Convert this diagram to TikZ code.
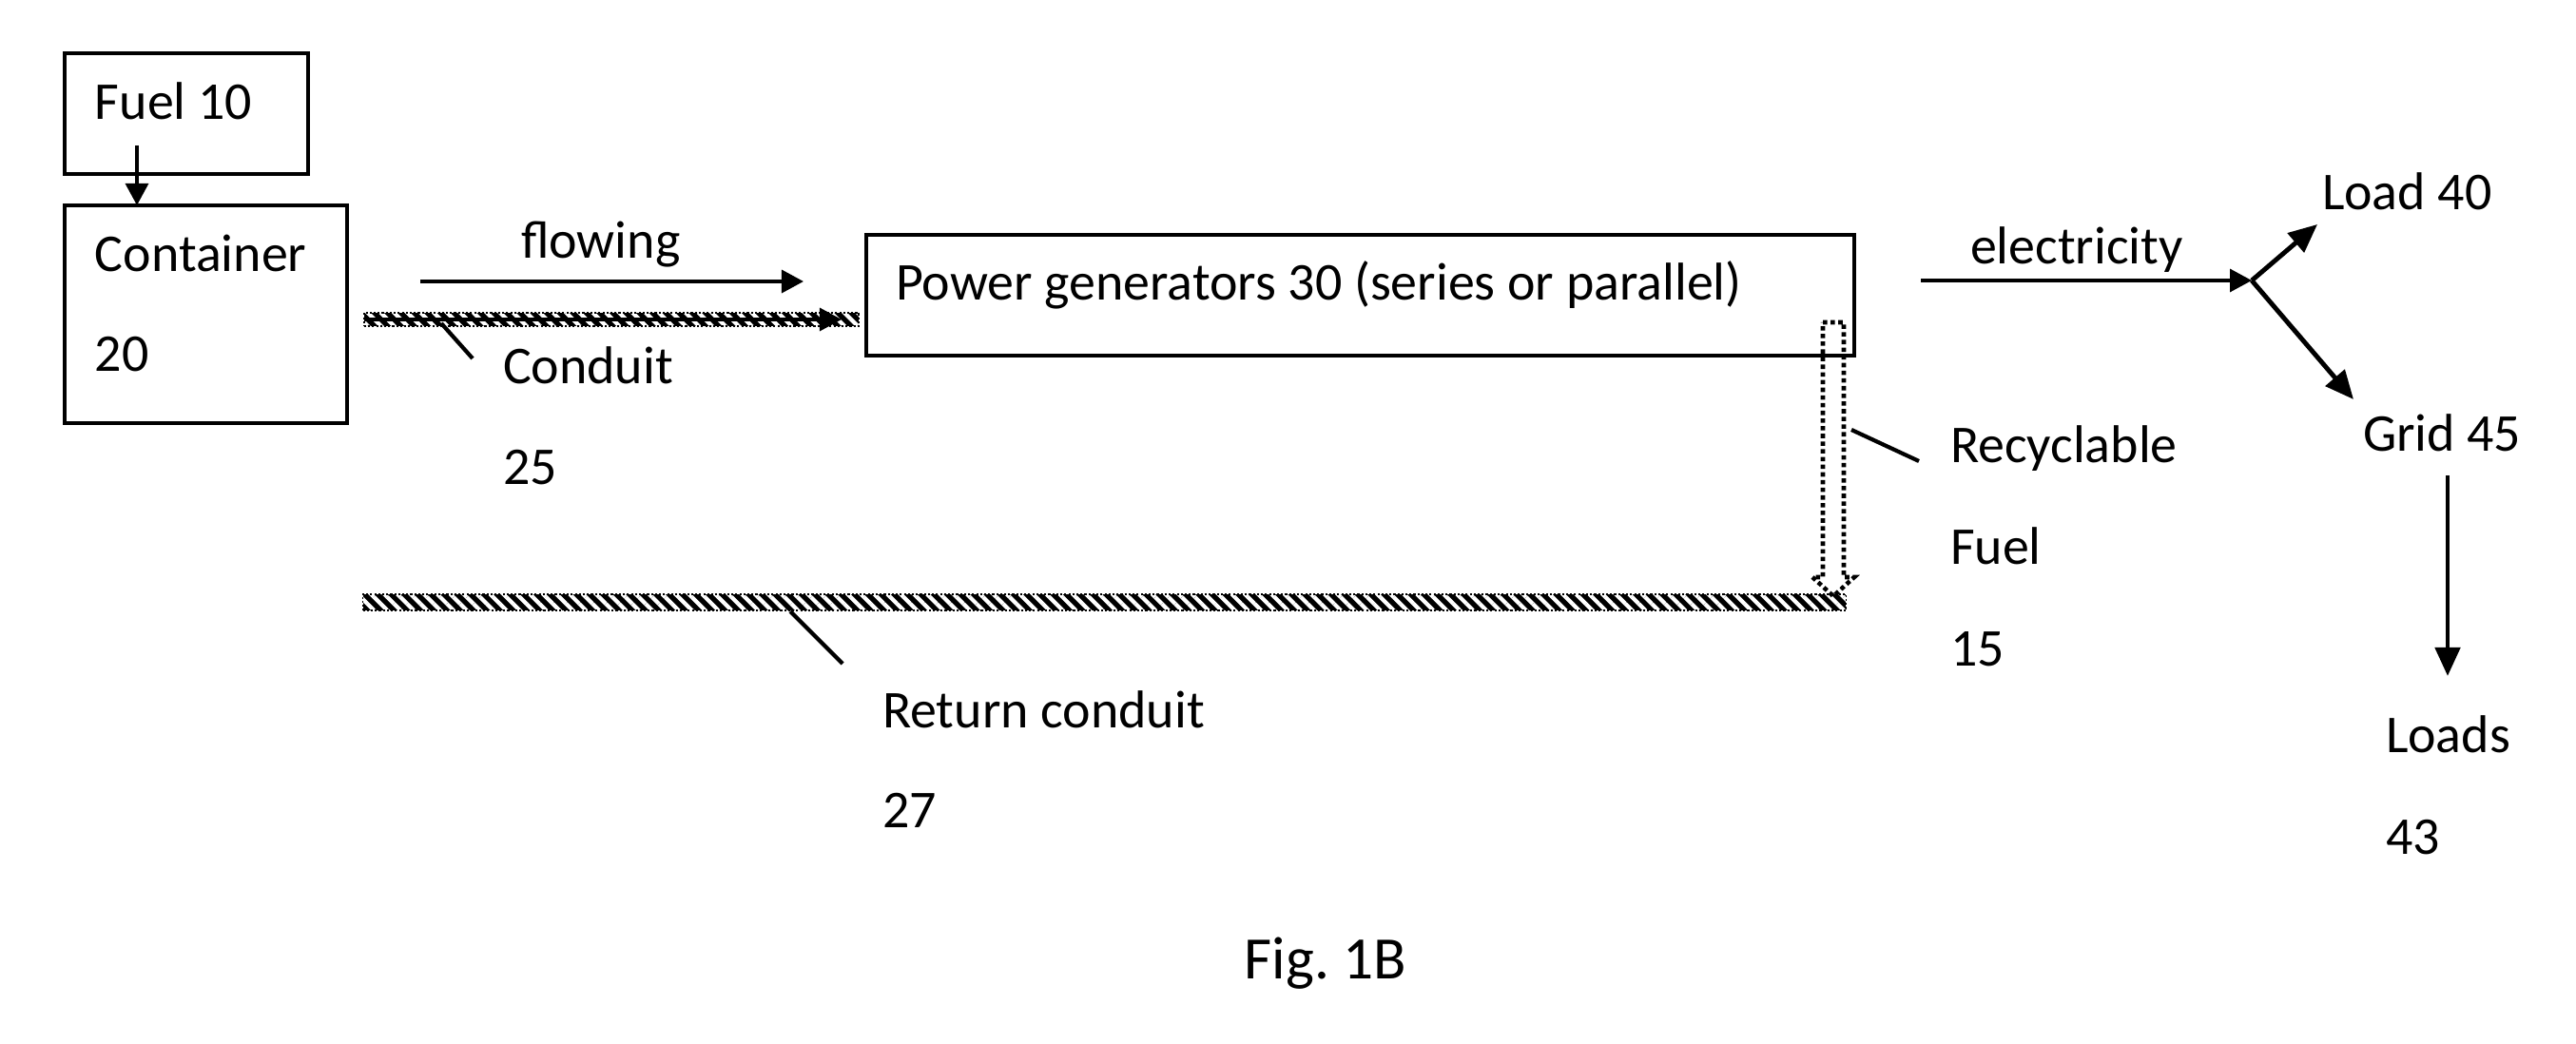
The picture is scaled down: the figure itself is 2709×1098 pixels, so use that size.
\documentclass[tikz,border=0pt]{standalone}
\usepackage{fontspec}
\setmainfont{Carlito}
\usetikzlibrary{arrows.meta,patterns,patterns.meta}
\begin{document}
\begin{tikzpicture}[x=0.01cm,y=-0.01cm,
  box/.style={draw,line width=1.1pt,rectangle,inner sep=0pt,outer sep=0pt},
  lbl/.style={anchor=base west,inner sep=0pt,outer sep=0pt,font=\fontsize{15.9}{19}\selectfont},
  arr/.style={line width=0.95pt,-{Triangle[length=0.23cm,width=0.24cm]}},
  barr/.style={line width=1.4pt,-{Triangle[length=0.3cm,width=0.26cm]}},
  leader/.style={line width=1.2pt},
  hatchbar/.style={rectangle,inner sep=0pt,outer sep=0pt,fill=black,
    postaction={pattern={Lines[angle=-45,distance=2.8pt,line width=1.2pt]},pattern color=white},
    postaction={draw=black,line width=0.5pt,dash pattern=on 0.6pt off 0.6pt}},
  recyc/.style={line width=1.3pt,densely dotted},
]
\useasboundingbox (0,0) rectangle (2709,1098);

% boxes
\node[box,minimum width=2.56cm,minimum height=1.27cm] (fuel) at (196,119.5) {};
\node[box,minimum width=2.97cm,minimum height=2.29cm] (cont) at (216.5,330.5) {};
\node[box,minimum width=10.39cm,minimum height=1.27cm] (pow) at (1430.5,310.5) {};

% bars
\node[hatchbar,minimum width=5.2cm,minimum height=0.14cm] (cbar) at (643,336) {};
\node[hatchbar,minimum width=15.59cm,minimum height=0.17cm] (rbar) at (1161.5,633.5) {};

% texts
\node[lbl] (t-fuel) at (100,126) {Fuel 10};
\node[lbl] (t-cont) at (100,286) {Container};
\node[lbl] (t-20) at (100,391) {20};
\node[lbl] (t-flow) at (548,272) {flowing};
\node[lbl] (t-cond) at (529,404) {Conduit};
\node[lbl] (t-25) at (529,510) {25};
\node[lbl] (t-pow) at (942,316) {Power generators 30 (series or parallel)};
\node[lbl] (t-elec) at (2072,278) {electricity};
\node[lbl] (t-load) at (2442,221) {Load 40};
\node[lbl] (t-grid) at (2485,475) {Grid 45};
\node[lbl] (t-rec) at (2051,487) {Recyclable};
\node[lbl] (t-rfuel) at (2051,594) {Fuel};
\node[lbl] (t-15) at (2051,701) {15};
\node[lbl] (t-ret) at (928,766) {Return conduit};
\node[lbl] (t-27) at (928,871) {27};
\node[lbl] (t-loads) at (2509,792) {Loads};
\node[lbl] (t-43) at (2509,899) {43};
\node[anchor=base west,inner sep=0pt,font=\fontsize{18}{22}\selectfont] (t-fig) at (1308,1029) {Fig.~1B};

% coordinates
\coordinate (fa) at (144,153);
\coordinate (fs) at (442,296);
\coordinate (fe) at (845,296);
\coordinate (ctip) at (885,336);
\coordinate (es) at (2020,295);
\coordinate (jn) at (2368,295);
\coordinate (ltip) at (2437,236);
\coordinate (gtip) at (2475,420);
\coordinate (gs) at (2574,500);
\coordinate (ge) at (2574,711);
\coordinate (l1a) at (464,340);
\coordinate (l1b) at (497,377);
\coordinate (l2a) at (831,643);
\coordinate (l2b) at (886,698);
\coordinate (l3a) at (1947,452);
\coordinate (l3b) at (2018,485);

% connectors
\draw[arr] (fa) -- (fa |- cont.north);
\draw[arr] (fs) -- (fe);
\draw[arr] (cbar.west) -- (ctip);
\draw[arr] (es) -- (jn);
\draw[barr] (jn) -- (ltip);
\draw[barr] (jn) -- (gtip);
\draw[barr] (gs) -- (ge);
\draw[leader] (l1a) -- (l1b);
\draw[leader] (l2a) -- (l2b);
\draw[leader] (l3a) -- (l3b);

% recyclable fuel hollow arrow
\draw[recyc] (1917,339) -- (1939,339) -- (1939,607) -- (1950,607) -- (1928,627) -- (1906,607) -- (1917,607) -- cycle;
\end{tikzpicture}
\end{document}
